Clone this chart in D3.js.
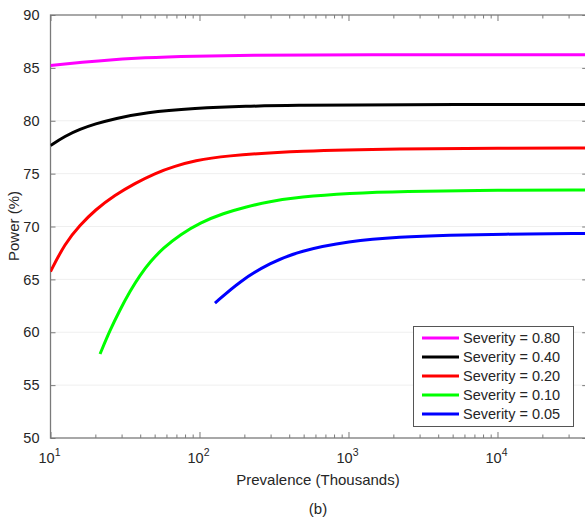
<!DOCTYPE html>
<html>
<head>
<meta charset="utf-8">
<script src="https://cdn.jsdelivr.net/npm/d3@7"></script>
<style>
  html, body { margin: 0; padding: 0; background: #fff; }
  svg { display: block; font-family: "Liberation Sans", Arial, sans-serif; }
</style>
</head>
<body>
<svg id="chart" width="585" height="522"></svg>
<script>
// Power (%) versus prevalence (thousands) for several severity levels
const severityLabels = ["Severity = 0.80", "Severity = 0.40", "Severity = 0.20", "Severity = 0.10", "Severity = 0.05"];
const seriesColors = ["#ff00ff", "#000000", "#ff0000", "#00ff00", "#0000ff"];

const prevalence080 = [10, 12.5, 19.9, 43.1, 93.3, 202, 1021, 40000];
const power080 = [85.22, 85.38, 85.65, 85.98, 86.12, 86.2, 86.24, 86.25];

const prevalence040 = [10, 12.5, 15.8, 19.9, 27.1, 43.1, 93.3, 202, 472, 1021, 4800, 40000];
const power040 = [77.65, 78.55, 79.2, 79.7, 80.2, 80.8, 81.18, 81.38, 81.47, 81.5, 81.53, 81.54];

const prevalence020 = [10, 12.5, 15.8, 19.9, 27.1, 36.9, 50.2, 68.5, 93.3, 141.6, 472, 2213, 10400, 40000];
const power020 = [65.74, 68.41, 70.14, 71.56, 72.98, 74.08, 75.03, 75.72, 76.22, 76.67, 77.17, 77.36, 77.41, 77.42];

const prevalence010 = [21.5, 25.1, 29.2, 34.2, 39.9, 46.5, 57.2, 74.6, 100.8, 144.5, 207.5, 289.8, 472, 1021, 2213, 10400, 40000];
const power010 = [57.94, 60.21, 62.1, 63.9, 65.4, 66.65, 67.98, 69.25, 70.35, 71.25, 71.87, 72.35, 72.8, 73.15, 73.33, 73.43, 73.45];

const prevalence005 = [127, 187, 297, 472, 1000, 2213, 4800, 10400, 40000];
const power005 = [62.75, 64.85, 66.55, 67.7, 68.62, 69.03, 69.19, 69.28, 69.35];

const yTicks = [50, 55, 60, 65, 70, 75, 80, 85, 90];
const xMajorTicks = [10, 100, 1000, 10000];
const xTickExponents = ["1", "2", "3", "4"];

const series = [
  { x: prevalence080, y: power080 },
  { x: prevalence040, y: power040 },
  { x: prevalence020, y: power020 },
  { x: prevalence010, y: power010 },
  { x: prevalence005, y: power005 }
];

const svg = d3.select("#chart");
const plot = { left: 50.5, right: 587.2, top: 15, bottom: 438 };

const x = d3.scaleLog().domain([10, 40000]).range([plot.left, plot.right]);
const y = d3.scaleLinear().domain([50, 90]).range([plot.bottom, plot.top]);

const axisColor = "#7a7a7a";
const textColor = "#262626";

// faint horizontal grid
svg.append("g").selectAll("line")
  .data(yTicks.slice(1, -1))
  .join("line")
  .attr("x1", plot.left).attr("x2", plot.right)
  .attr("y1", d => y(d)).attr("y2", d => y(d))
  .attr("stroke", "#efefef").attr("stroke-width", 1);

// minor log ticks
const minorTicks = [];
for (let dec = 10; dec < 40000; dec *= 10) {
  for (let m = 2; m <= 9; m++) {
    const v = dec * m;
    if (v <= 40000) minorTicks.push(v);
  }
}

function styleTicks(g) {
  g.select(".domain").remove();
  g.selectAll(".tick line").attr("stroke", axisColor);
}

// bottom axis ticks (inward)
svg.append("g").attr("transform", `translate(0,${plot.bottom})`)
  .call(d3.axisBottom(x).tickValues(xMajorTicks).tickSizeInner(-6).tickSizeOuter(0).tickFormat(""))
  .call(styleTicks);
svg.append("g").attr("transform", `translate(0,${plot.bottom})`)
  .call(d3.axisBottom(x).tickValues(minorTicks).tickSizeInner(-3.5).tickSizeOuter(0).tickFormat(""))
  .call(styleTicks);

// top axis ticks (inward)
svg.append("g").attr("transform", `translate(0,${plot.top})`)
  .call(d3.axisTop(x).tickValues(xMajorTicks).tickSizeInner(-6).tickSizeOuter(0).tickFormat(""))
  .call(styleTicks);
svg.append("g").attr("transform", `translate(0,${plot.top})`)
  .call(d3.axisTop(x).tickValues(minorTicks).tickSizeInner(-3.5).tickSizeOuter(0).tickFormat(""))
  .call(styleTicks);

// left axis
const gLeft = svg.append("g").attr("transform", `translate(${plot.left},0)`)
  .call(d3.axisLeft(y).tickValues(yTicks).tickSizeInner(-5).tickSizeOuter(0).tickPadding(11))
  .call(styleTicks);
gLeft.selectAll(".tick text")
  .attr("fill", textColor).attr("font-size", 14.5)
  .attr("font-family", "Liberation Sans, Arial, sans-serif");

// right axis ticks
svg.append("g").attr("transform", `translate(${plot.right},0)`)
  .call(d3.axisRight(y).tickValues(yTicks).tickSizeInner(-5).tickSizeOuter(0).tickFormat(""))
  .call(styleTicks);

// frame
svg.append("rect")
  .attr("x", plot.left).attr("y", plot.top)
  .attr("width", plot.right - plot.left).attr("height", plot.bottom - plot.top)
  .attr("fill", "none").attr("stroke", axisColor).attr("stroke-width", 1.3);

// x tick labels as powers of ten
const xLabels = svg.append("g").selectAll("text")
  .data(xMajorTicks)
  .join("text")
  .attr("x", d => x(d) - 1)
  .attr("y", 463)
  .attr("text-anchor", "middle")
  .attr("fill", textColor)
  .attr("font-size", 14.5);
xLabels.append("tspan").text("10");
xLabels.append("tspan")
  .attr("dy", -7).attr("font-size", 10.5)
  .text((d, i) => xTickExponents[i]);

// curves
svg.append("clipPath").attr("id", "plot-clip")
  .append("rect")
  .attr("x", plot.left).attr("y", plot.top - 2)
  .attr("width", plot.right - plot.left).attr("height", plot.bottom - plot.top + 4);

const line = d3.line()
  .x(d => x(d[0]))
  .y(d => y(d[1]))
  .curve(d3.curveBasis);

svg.append("g").attr("clip-path", "url(#plot-clip)")
  .selectAll("path")
  .data(series)
  .join("path")
  .attr("d", s => line(s.x.map((v, i) => [v, s.y[i]])))
  .attr("fill", "none")
  .attr("stroke", (s, i) => seriesColors[i])
  .attr("stroke-width", 3)
  .attr("stroke-linejoin", "round");

// axis titles
svg.append("text")
  .attr("x", 318).attr("y", 485)
  .attr("text-anchor", "middle")
  .attr("fill", textColor).attr("font-size", 15)
  .text("Prevalence (Thousands)");

svg.append("text")
  .attr("transform", "translate(19,226) rotate(-90)")
  .attr("text-anchor", "middle")
  .attr("fill", textColor).attr("font-size", 15)
  .text("Power (%)");

svg.append("text")
  .attr("x", 318).attr("y", 514)
  .attr("text-anchor", "middle")
  .attr("fill", textColor).attr("font-size", 15)
  .text("(b)");

// legend
const legend = svg.append("g");
legend.append("rect")
  .attr("x", 413.5).attr("y", 326.5)
  .attr("width", 160).attr("height", 100)
  .attr("fill", "#fff").attr("stroke", "#555").attr("stroke-width", 1);

const entries = legend.selectAll("g.entry")
  .data(severityLabels)
  .join("g")
  .attr("class", "entry")
  .attr("transform", (d, i) => `translate(0,${338 + i * 19})`);
entries.append("line")
  .attr("x1", 422).attr("x2", 459)
  .attr("y1", 0).attr("y2", 0)
  .attr("stroke", (d, i) => seriesColors[i])
  .attr("stroke-width", 3);
entries.append("text")
  .attr("x", 463).attr("y", 5)
  .attr("fill", textColor).attr("font-size", 14.5)
  .text(d => d);
</script>
</body>
</html>
